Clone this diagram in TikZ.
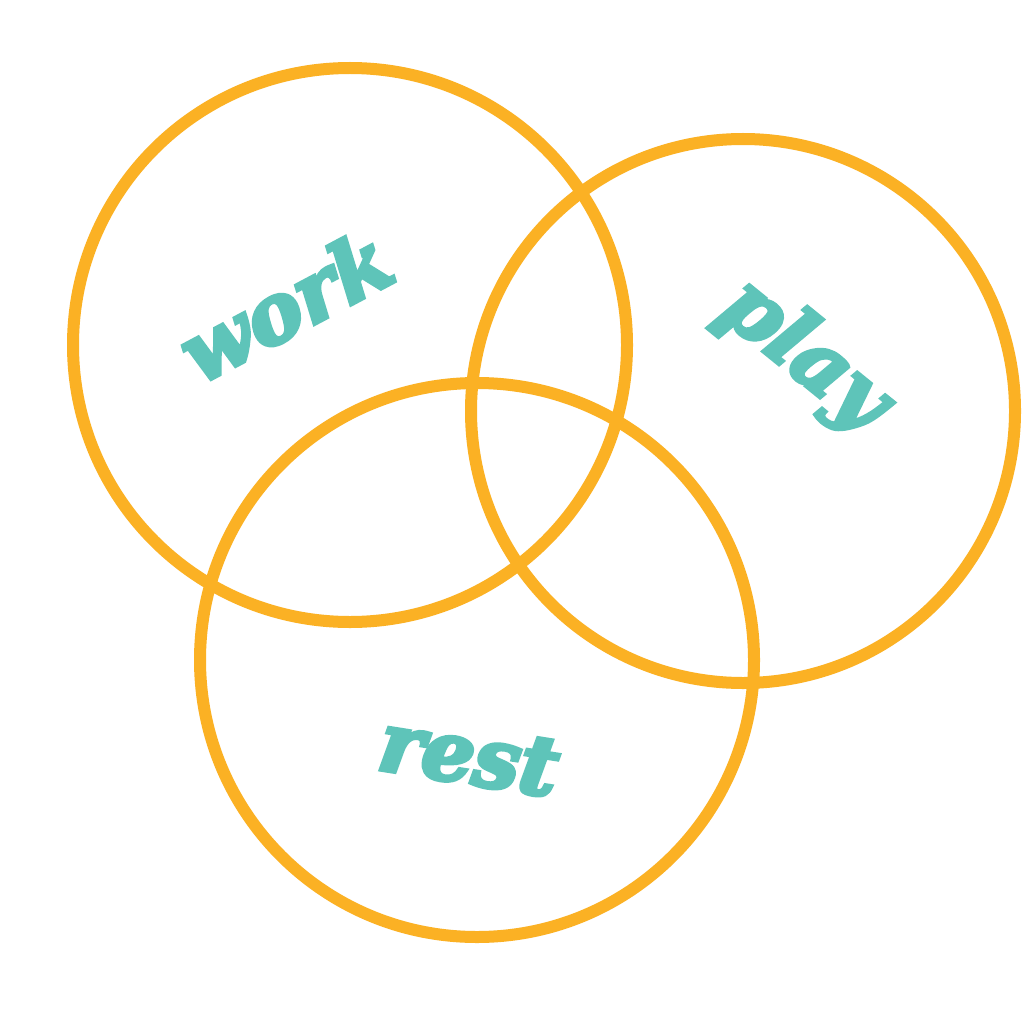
\documentclass[tikz,border=0pt]{standalone}
\usepackage{fontspec}
\newfontfamily\wordfont[BoldItalicFeatures={FakeBold=5}]{DejaVu Serif}
\definecolor{ringorange}{HTML}{FBB124}
\definecolor{wordteal}{HTML}{5EC4B9}
\begin{document}
\begin{tikzpicture}[x=1pt,y=-1pt,
  ring/.style={draw=ringorange,line width=12pt},
  word/.style={text=wordteal,inner sep=0pt,font=\wordfont\bfseries\itshape\fontsize{82}{82}\selectfont}]
\useasboundingbox[fill=white] (0,0) rectangle (1024,1024);
\draw[ring] (350,345) circle[radius=277];
\draw[ring] (743,411) circle[radius=272];
\draw[ring] (477,660) circle[radius=277];
\node[word,rotate=28] (work) at (285,305) {work};
\node[word,rotate=-39] (play) at (804,356) {play};
\node[word,rotate=-9] (rest) at (469,756) {rest};
\end{tikzpicture}
\end{document}
